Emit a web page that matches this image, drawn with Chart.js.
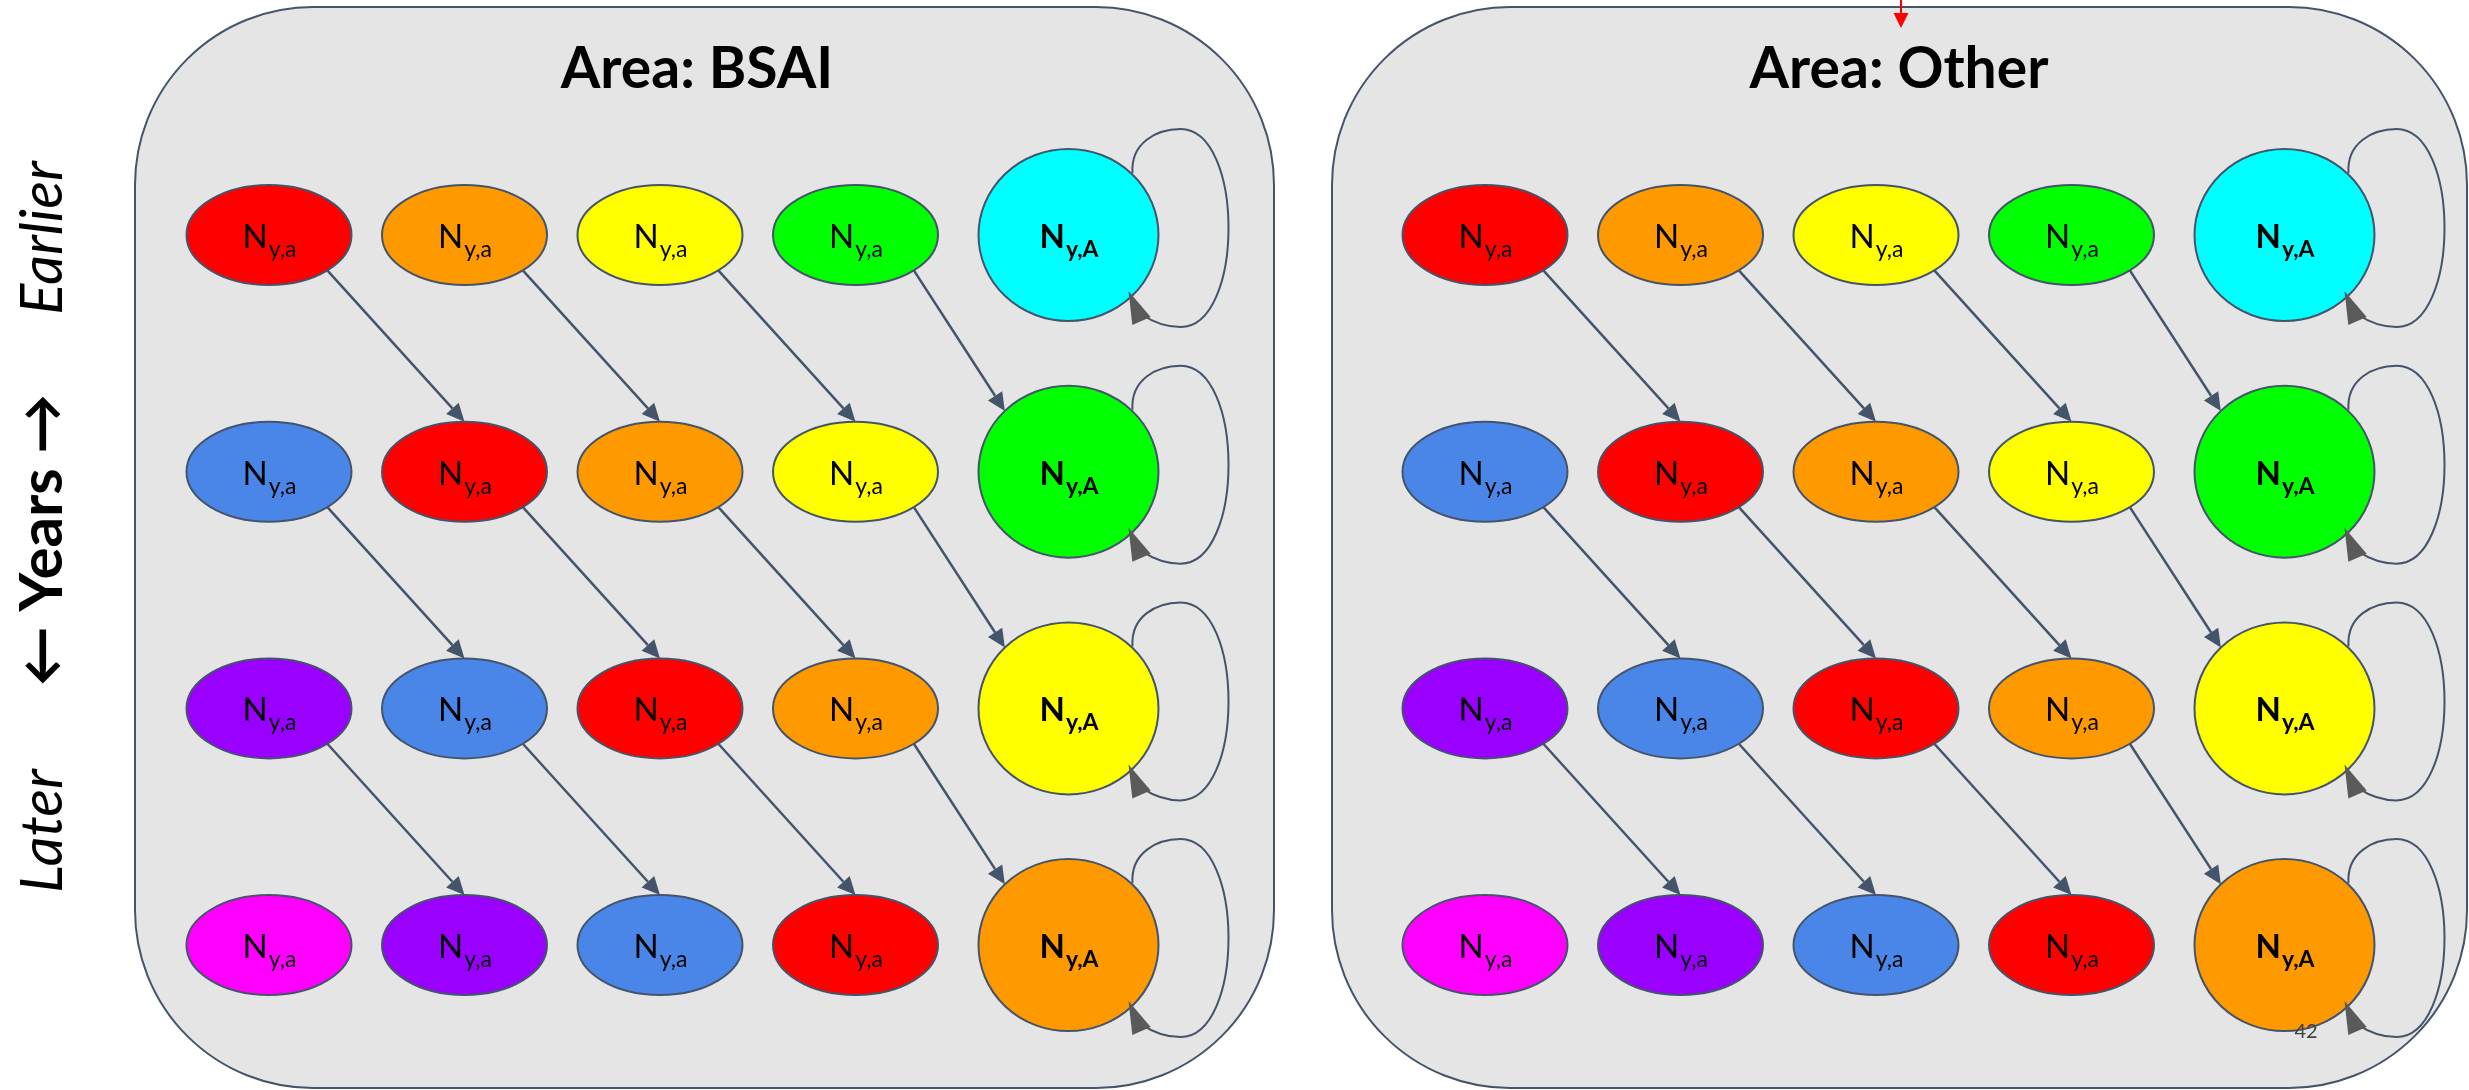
<!DOCTYPE html>
<html>
<head>
<meta charset="utf-8">
<script src="https://cdn.jsdelivr.net/npm/chart.js@4/dist/chart.umd.min.js"></script>
<style>
  body { margin: 0; background: #fff; }
  canvas { display: block; }
</style>
</head>
<body>
<canvas id="diagram" width="2469" height="1090"></canvas>
<script>
// diagram content
const areas = ["Area: BSAI", "Area: Other"];
const ages = [0, 1, 2, 3, 4];               // 4 = plus group
const ageSubs = ["y,a", "y,a", "y,a", "y,a", "y,A"];
const years = [0, 1, 2, 3];
const yearLabels = ["Earlier", "\u2190 Years \u2192", "Later"];
// cohort shown in each cell (row = year, col = age)
const cohortGrid = [
    [4, 3, 2, 1, 0],
    [5, 4, 3, 2, 1],
    [6, 5, 4, 3, 2],
    [7, 6, 5, 4, 3]
];
const cohortColors = ["#00ffff", "#00ff00", "#ffff00", "#ff9900", "#ff0000", "#4a86e8", "#9900ff", "#ff00ff"];
const pageNumber = "42";

// layout
const W = 2469, H = 1090;
const colStep = 195.5, rowStep = 236.7;
const firstCol = 269, firstRow = 235;
const panelShift = 1216 / colStep;
const plusGap = 17.5 / colStep;
const lineCol = "#44546a";

const makePoints = (areaIdx) => {
    let pts = [];
    years.forEach(y => {
        ages.forEach(a => {
            pts.push({
                x: areaIdx * panelShift + a + (a === 4 ? plusGap : 0),
                y: y,
                age: a,
                year: y,
                cohort: cohortGrid[y][a]
            });
        });
    });
    return pts;
};

const arrow = (ctx, x1, y1, x2, y2, color, len, half) => {
    const ang = Math.atan2(y2 - y1, x2 - x1);
    const bx = x2 - len * Math.cos(ang), by = y2 - len * Math.sin(ang);
    ctx.strokeStyle = lineCol;
    ctx.lineWidth = 2.5;
    ctx.beginPath();
    ctx.moveTo(x1, y1);
    ctx.lineTo(bx, by);
    ctx.stroke();
    ctx.fillStyle = color;
    ctx.beginPath();
    ctx.moveTo(x2, y2);
    ctx.lineTo(bx + half * Math.sin(ang), by - half * Math.cos(ang));
    ctx.lineTo(bx - half * Math.sin(ang), by + half * Math.cos(ang));
    ctx.closePath();
    ctx.fill();
};

const selfLoop = (ctx, cx, cy) => {
    ctx.strokeStyle = lineCol;
    ctx.lineWidth = 2;
    ctx.beginPath();
    ctx.moveTo(cx + 64, cy - 62);
    ctx.bezierCurveTo(cx + 62, cy - 92, cx + 88, cy - 106, cx + 112, cy - 106);
    ctx.bezierCurveTo(cx + 176, cy - 106, cx + 176, cy + 92, cx + 112, cy + 92);
    ctx.bezierCurveTo(cx + 98, cy + 92, cx + 86, cy + 88, cx + 74, cy + 80);
    ctx.stroke();
    // head
    const tx = cx + 60, ty = cy + 56, bx = cx + 73, by = cy + 86;
    const ang = Math.atan2(ty - by, tx - bx);
    const half = 10;
    ctx.fillStyle = "#5a5a5a";
    ctx.beginPath();
    ctx.moveTo(tx, ty);
    ctx.lineTo(bx + half * Math.sin(ang), by - half * Math.cos(ang));
    ctx.lineTo(bx - half * Math.sin(ang), by + half * Math.cos(ang));
    ctx.closePath();
    ctx.fill();
};

const nodeLabel = (ctx, cx, cy, sub, big) => {
    const w = big ? "bold " : "";
    ctx.fillStyle = "#000";
    ctx.textBaseline = "alphabetic";
    ctx.textAlign = "left";
    ctx.font = w + "33px Lato";
    const wN = ctx.measureText("N").width;
    ctx.font = w + "23px Lato";
    const wS = ctx.measureText(sub).width;
    const x0 = cx - (wN + wS) / 2;
    ctx.font = w + "33px Lato";
    ctx.fillText("N", x0, cy + 13);
    ctx.font = w + "23px Lato";
    ctx.fillText(sub, x0 + wN + 1, cy + 22);
};

const backdrop = {
    id: "backdrop",
    beforeDatasetsDraw(chart) {
        const ctx = chart.ctx;
        ctx.save();
        const panels = [[135, 7, 1139, 1081], [1332, 7, 1135, 1081]];
        panels.forEach(p => {
            ctx.beginPath();
            ctx.roundRect(p[0], p[1], p[2], p[3], 178);
            ctx.fillStyle = "#e5e5e5";
            ctx.fill();
            ctx.strokeStyle = lineCol;
            ctx.lineWidth = 2;
            ctx.stroke();
        });
        // titles
        ctx.fillStyle = "#000";
        ctx.font = "bold 57px Lato";
        ctx.textAlign = "center";
        ctx.textBaseline = "alphabetic";
        ctx.fillText(areas[0], 697, 88);
        ctx.fillText(areas[1], 1899, 88);
        // side labels
        const sideY = [238, 540, 831];
        const sideFont = ["italic 58px Lato", "bold 60px Lato, 'DejaVu Sans'", "italic 58px Lato"];
        yearLabels.forEach((t, i) => {
            ctx.save();
            ctx.translate(62, sideY[i]);
            ctx.rotate(-Math.PI / 2);
            ctx.font = sideFont[i];
            ctx.fillText(t, 0, 0);
            ctx.restore();
        });
        // small red marker at top
        ctx.strokeStyle = "#ff0000";
        ctx.lineWidth = 2;
        ctx.beginPath();
        ctx.moveTo(1901, 0);
        ctx.lineTo(1901, 15);
        ctx.stroke();
        ctx.fillStyle = "#ff0000";
        ctx.beginPath();
        ctx.moveTo(1901, 28);
        ctx.lineTo(1893.5, 13);
        ctx.lineTo(1908.5, 13);
        ctx.closePath();
        ctx.fill();
        ctx.restore();
    },
    afterDatasetsDraw(chart) {
        const ctx = chart.ctx;
        ctx.save();
        chart.data.datasets.forEach((ds, di) => {
            const els = chart.getDatasetMeta(di).data;
            const pos = {};
            els.forEach((el, i) => {
                const d = ds.data[i];
                pos[d.year + "_" + d.age] = el;
                const big = d.age === 4;
                const rx = big ? 90 : 82.5, ry = big ? 86 : 50;
                ctx.beginPath();
                ctx.ellipse(el.x, el.y, rx, ry, 0, 0, Math.PI * 2);
                ctx.fillStyle = cohortColors[d.cohort];
                ctx.fill();
                ctx.strokeStyle = lineCol;
                ctx.lineWidth = 2;
                ctx.stroke();
                nodeLabel(ctx, el.x, el.y, ageSubs[d.age], big);
            });
            // ageing arrows
            years.slice(0, -1).forEach(y => {
                ages.slice(0, -1).forEach(a => {
                    const s = pos[y + "_" + a], t = pos[(y + 1) + "_" + (a + 1)];
                    const sx = s.x + 82.5 * Math.SQRT1_2, sy = s.y + 50 * Math.SQRT1_2;
                    let tx, ty;
                    if (a + 1 === 4) {
                        tx = t.x - 90 * Math.SQRT1_2;
                        ty = t.y - 86 * Math.SQRT1_2;
                    } else {
                        tx = t.x;
                        ty = t.y - 50;
                    }
                    arrow(ctx, sx, sy, tx, ty, lineCol, 18, 8.5);
                });
            });
            // plus group stays
            years.forEach(y => {
                const el = pos[y + "_4"];
                selfLoop(ctx, el.x, el.y);
            });
        });
        ctx.fillStyle = "#404040";
        ctx.font = "20px Lato";
        ctx.textAlign = "center";
        ctx.fillText(pageNumber, 2306, 1038);
        ctx.restore();
    }
};

const ctx = document.getElementById("diagram").getContext("2d");
const myChart = new Chart(ctx, {
    type: "scatter",
    data: {
        datasets: areas.map((a, i) => ({
            label: a,
            data: makePoints(i),
            pointRadius: 0,
            pointHoverRadius: 0
        }))
    },
    options: {
        responsive: false,
        devicePixelRatio: 1,
        animation: false,
        events: [],
        layout: { padding: 0 },
        plugins: {
            legend: { display: false },
            tooltip: { enabled: false }
        },
        scales: {
            x: {
                type: "linear",
                display: false,
                min: -firstCol / colStep,
                max: (W - firstCol) / colStep
            },
            y: {
                type: "linear",
                display: false,
                reverse: true,
                min: -firstRow / rowStep,
                max: (H - firstRow) / rowStep
            }
        }
    },
    plugins: [backdrop]
});
</script>
</body>
</html>
